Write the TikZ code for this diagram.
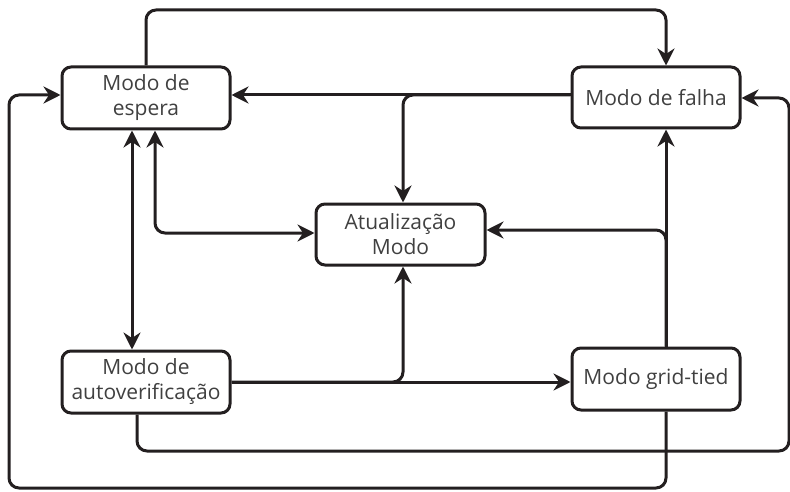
\documentclass[tikz,border=0pt]{standalone}
\usepackage{fontspec}
\setmainfont{Open Sans}
\usetikzlibrary{arrows.meta}
\definecolor{ln}{HTML}{231F20}
\definecolor{tx}{HTML}{404040}
\tikzset{
  box/.style={draw=ln, line width=3pt, rounded corners=9pt, minimum width=168pt, minimum height=62pt, inner sep=0pt, align=center, text=tx, font=\fontsize{21}{25}\selectfont},
  tipc/.tip={Stealth[length=17pt, width=17pt, inset=5.5pt]},
  arr/.style={draw=ln, line width=3pt, rounded corners=10pt, -tipc},
  dbl/.style={draw=ln, line width=3pt, rounded corners=10pt, tipc-tipc},
}
\begin{document}
\begin{tikzpicture}[x=1pt, y=-1pt]
\useasboundingbox (0,0) rectangle (790,492);
\node[box] (espera) at (146,98) {Modo de\\espera};
\node[box, minimum height=61pt] (falha) at (656,97.5) {Modo de falha};
\node[box, minimum width=169pt, minimum height=61pt] (atual) at (400.5,234.5) {Atualização\\Modo};
\node[box] (autover) at (146,382) {Modo de\\autoverificação};
\node[box] (grid) at (656,379) {Modo grid-tied};

\coordinate (eS1) at ([xshift=-14pt]espera.south);
\coordinate (eS2) at ([xshift=9pt]espera.south);
\coordinate (aN1) at (eS1 |- autover.north);
\coordinate (aS) at ([xshift=-9pt]autover.south);
\coordinate (fN) at ([xshift=10pt]falha.north);
\coordinate (fS) at ([xshift=10pt]falha.south);
\coordinate (gN) at ([xshift=10pt]grid.north);
\coordinate (gS) at ([xshift=10pt]grid.south);
\coordinate (uN) at ([xshift=2.5pt]atual.north);
\coordinate (uS) at ([xshift=2.5pt]atual.south);

% espera -> falha (top loop)
\draw[arr] (espera.north) |- (fN |- 0,10) -- (fN);
% falha -> espera, falha -> atual
\draw[arr] (falha.west |- 0,95) -- (espera.east |- 0,95);
\draw[arr] (falha.west |- 0,95) -| (uN);
% espera <-> autover
\draw[dbl] (eS1) -- (aN1);
% espera <-> atual
\draw[dbl] (eS2) |- (atual.west |- 0,233);
% grid -> espera (outer loop)
\draw[arr] (gS) |- (9,488) |- (espera.west |- 0,95);
% autover -> falha (right loop)
\draw[arr] (aS) |- (789,451) |- (falha.east |- 0,98);
% autover -> grid, autover -> atual
\draw[arr] (autover.east |- 0,382) -- (grid.west |- 0,382);
\draw[arr] (autover.east |- 0,382) -| (uS);
% grid -> falha, grid -> atual
\draw[arr] (gN) -- (fS);
\draw[arr] (gN) |- (atual.east |- 0,230);
\end{tikzpicture}
\end{document}
